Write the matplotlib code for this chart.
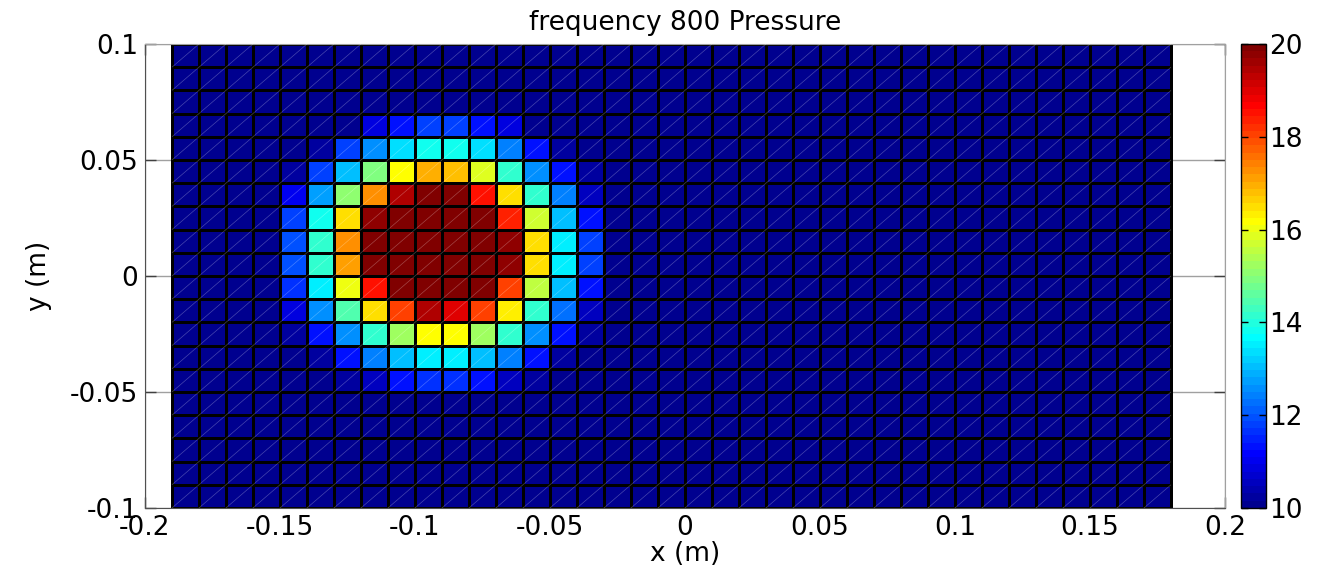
import numpy as np
import matplotlib
matplotlib.use('Agg')
import matplotlib.pyplot as plt
from matplotlib.colors import ListedColormap
from matplotlib.collections import LineCollection

plt.rcParams['font.family'] = ['DejaVu Sans']

# mesh nodes (m)
x_nodes = np.round(np.arange(-0.19, 0.1801, 0.01), 3)
y_nodes = np.round(np.arange(-0.10, 0.1001, 0.01), 3)

# pressure in the hot spot: rows y=0.06..0.07 down to y=-0.05..-0.04, columns x=-0.15..-0.03
blob_col0 = 4
blob_row_top = 16
blob = [
    [10.0, 10.1, 10.15, 10.9, 11.4, 11.8, 11.8, 11.4, 10.8, 10.15, 10.0, 10.0],
    [10.0, 10.3, 11.8, 12.65, 13.3, 13.9, 13.9, 13.3, 12.4, 11.3, 10.2, 10.0],
    [10.2, 11.8, 13.1, 14.85, 16.1, 16.9, 16.8, 15.8, 14.2, 12.65, 11.25, 10.2],
    [11.0, 12.8, 15.0, 17.2, 19.4, 20.0, 20.0, 18.5, 16.5, 14.2, 12.4, 10.6],
    [11.8, 13.75, 16.5, 19.7, 20.0, 20.0, 20.0, 20.0, 18.4, 15.7, 13.1, 11.3],
    [11.9, 14.2, 17.2, 20.0, 20.0, 20.0, 20.0, 20.0, 19.7, 16.5, 13.5, 11.8],
    [11.9, 14.1, 17.1, 20.0, 20.0, 20.0, 20.0, 20.0, 19.7, 16.5, 13.5, 11.8],
    [11.6, 13.45, 16.0, 18.5, 20.0, 20.0, 20.0, 20.0, 18.1, 15.5, 13.1, 11.4],
    [10.8, 12.65, 14.4, 16.5, 18.1, 19.4, 19.05, 18.0, 16.25, 14.1, 12.25, 10.6],
    [10.2, 11.4, 12.65, 14.1, 15.3, 16.1, 16.1, 15.3, 14.1, 12.5, 11.4, 10.2],
    [10.0, 10.2, 11.4, 12.4, 13.0, 13.45, 13.45, 13.0, 12.4, 11.4, 10.2, 10.0],
    [10.0, 10.0, 10.2, 10.6, 11.4, 11.6, 11.6, 11.4, 10.6, 10.2, 10.0, 10.0],
]
background = 10.0

xticks = [-0.2, -0.15, -0.1, -0.05, 0, 0.05, 0.1, 0.15, 0.2]
xticklabels = ['-0.2', '-0.15', '-0.1', '-0.05', '0', '0.05', '0.1', '0.15', '0.2']
yticks = [-0.1, -0.05, 0, 0.05, 0.1]
yticklabels = ['-0.1', '-0.05', '0', '0.05', '0.1']
cticks = [10, 12, 14, 16, 18, 20]


def matlab_jet(m=64):
    n = int(np.ceil(m / 4))
    u = np.concatenate([np.arange(1, n + 1) / n, np.ones(n - 1), np.arange(n, 0, -1) / n])
    g = int(np.ceil(n / 2)) - (1 if m % 4 == 1 else 0) + np.arange(1, len(u) + 1)
    r = g + n
    b = g - n
    J = np.zeros((m, 3))
    ok = r <= m
    J[r[ok] - 1, 0] = u[ok]
    ok = g <= m
    J[g[ok] - 1, 1] = u[ok]
    ok = b >= 1
    J[b[ok] - 1, 2] = u[ok]
    return ListedColormap(J)


Z = np.full((len(y_nodes) - 1, len(x_nodes) - 1), background)
for k, row in enumerate(blob):
    j = blob_row_top - k
    Z[j, blob_col0:blob_col0 + len(row)] = row

fig = plt.figure(figsize=(13.2, 5.67), dpi=100)
ax = fig.add_axes([0.1098, 0.1041, 0.8182, 0.8183])
cax = fig.add_axes([0.9402, 0.1041, 0.0189, 0.8183])

mesh = ax.pcolormesh(x_nodes, y_nodes, Z, cmap=matlab_jet(64), vmin=10, vmax=20,
                     edgecolors='black', linewidth=0.8, zorder=2)

# triangle diagonals of each cell
X0, Y0 = np.meshgrid(x_nodes[:-1], y_nodes[:-1])
X1, Y1 = np.meshgrid(x_nodes[1:], y_nodes[1:])
segs = np.stack([np.stack([X0.ravel(), Y0.ravel()], 1),
                 np.stack([X1.ravel(), Y1.ravel()], 1)], 1)
ax.add_collection(LineCollection(segs, colors='white', alpha=0.28, linewidths=0.5, zorder=3))

ax.set_xlim(-0.2, 0.2)
ax.set_ylim(-0.1, 0.1)
ax.set_xticks(xticks)
ax.set_xticklabels(xticklabels)
ax.set_yticks(yticks)
ax.set_yticklabels(yticklabels)
ax.grid(True, color='#a0a0a0', linewidth=1, zorder=0)
ax.set_axisbelow(True)
ax.tick_params(direction='in', length=8, width=1, color='#404040', labelsize=19,
               top=True, right=True, pad=5)
for side in ['left', 'bottom']:
    ax.spines[side].set_color('#505050')
for side in ['top', 'right']:
    ax.spines[side].set_color('#a0a0a0')

ax.set_title('frequency 800 Pressure', fontsize=19, pad=10)
ax.set_xlabel('x (m)', fontsize=19, labelpad=0)
ax.set_ylabel('y (m)', fontsize=19, labelpad=13)

cb = fig.colorbar(mesh, cax=cax, ticks=cticks)
cb.ax.tick_params(direction='in', left=True, right=True, length=5, width=1,
                  labelsize=19, pad=2)
cb.outline.set_edgecolor('black')
cb.outline.set_linewidth(1)

fig.savefig('out.png', dpi=100)
